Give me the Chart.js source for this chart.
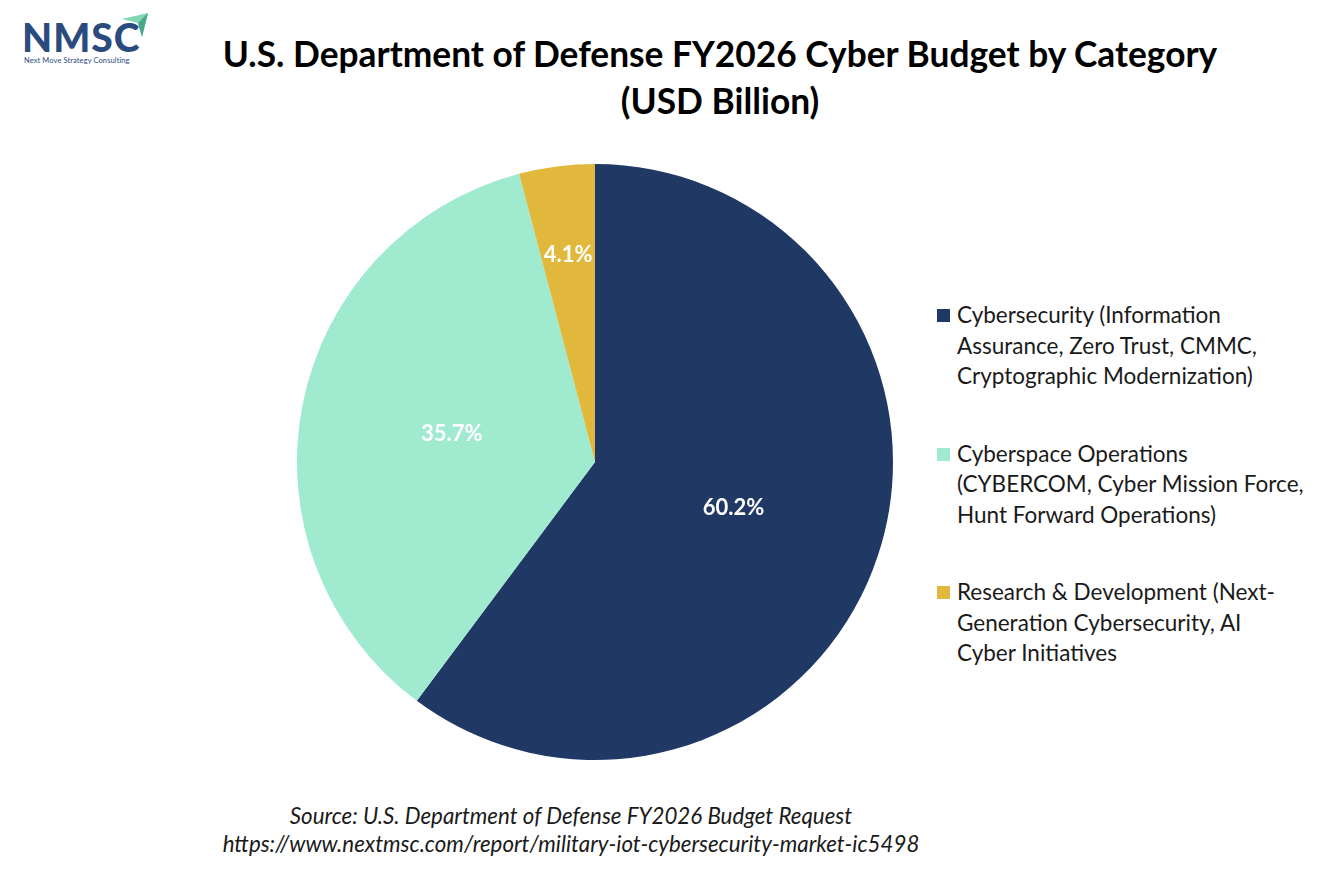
<!DOCTYPE html>
<html>
<head>
<meta charset="utf-8">
<script src="https://cdn.jsdelivr.net/npm/chart.js@4.4.1/dist/chart.umd.min.js"></script>
<style>
  html, body { margin: 0; padding: 0; background: #fff; }
  body { width: 1334px; height: 889px; position: relative; overflow: hidden; font-family: Lato, "Open Sans", sans-serif; }
  #title { position: absolute; left: 0; width: 1440px; top: 30px; text-align: center; font-weight: bold; font-size: 35.3px; line-height: 47px; color: #000; }
  #pieBox { position: absolute; left: 297px; top: 164px; width: 596px; height: 596px; }
  #legend { position: absolute; left: 937px; top: 300px; }
  .item { position: relative; padding-left: 20px; margin-bottom: 47px; font-size: 22.5px; line-height: 30.5px; color: #1a1a1a; }
  .item .box { position: absolute; left: 0; top: 9px; width: 13px; height: 13px; }
  #source { position: absolute; left: 0; width: 1142px; top: 802px; text-align: center; font-style: italic; font-size: 22.3px; line-height: 28px; color: #1a1a1a; }
  #logo { position: absolute; left: 22px; top: 16px; }
  #logo .big { font-weight: 900; font-size: 39px; letter-spacing: 1px; color: #2b4a7e; line-height: 42px; }
  #logo .small { font-size: 7.5px; color: #2b4a7e; margin-top: -2px; margin-left: 2px; letter-spacing: 0.1px; }
</style>
</head>
<body>
<div id="logo">
  <div class="big">NMSC</div>
  <div class="small">Next Move Strategy Consulting</div>
  <svg width="30" height="28" style="position:absolute;left:98px;top:-3px" viewBox="0 0 30 28">
    <polygon points="2,6 28,0 22,24 18,10" fill="#7fd7b4"/>
    <polygon points="18,10 28,0 22,24" fill="#4aa889"/>
  </svg>
</div>
<div id="title">U.S. Department of Defense FY2026 Cyber Budget by Category<br>(USD Billion)</div>
<div id="pieBox"><canvas id="pie"></canvas></div>
<div id="legend"></div>
<div id="source">Source: U.S. Department of Defense FY2026 Budget Request<br>https://www.nextmsc.com/report/military-iot-cybersecurity-market-ic5498</div>
<script>
// categories (legend lines) and share of budget in percent
const categories = [
  ['Cybersecurity (Information', 'Assurance, Zero Trust, CMMC,', 'Cryptographic Modernization)'],
  ['Cyberspace Operations', '(CYBERCOM, Cyber Mission Force,', 'Hunt Forward Operations)'],
  ['Research & Development (Next-', 'Generation Cybersecurity, AI', 'Cyber Initiatives']
];
const shares = [60.2, 35.7, 4.1];
const colors = ['#203864', '#a0ead0', '#e2b83c'];

// html legend so the long names can wrap like the original
const legendEl = document.getElementById('legend');
categories.forEach((lines, i) => {
  const div = document.createElement('div');
  div.className = 'item';
  div.innerHTML = '<span class="box" style="background:' + colors[i] + '"></span>' + lines.join('<br>');
  legendEl.appendChild(div);
});

// percentage labels inside the slices
const sliceLabels = {
  id: 'sliceLabels',
  afterDatasetsDraw(chart) {
    const ctx = chart.ctx;
    const meta = chart.getDatasetMeta(0);
    const total = shares.reduce((a, b) => a + b, 0);
    ctx.save();
    ctx.fillStyle = '#fff';
    ctx.font = 'bold 22px Lato, "Open Sans", sans-serif';
    ctx.textAlign = 'center';
    ctx.textBaseline = 'middle';
    meta.data.forEach((arc, i) => {
      const p = arc.getProps(['x', 'y', 'startAngle', 'endAngle', 'outerRadius'], true);
      const mid = (p.startAngle + p.endAngle) / 2;
      const pct = shares[i] / total * 100;
      const r = p.outerRadius * (pct < 10 ? 0.7 : 0.49);
      ctx.fillText(pct.toFixed(1) + '%', p.x + Math.cos(mid) * r, p.y + Math.sin(mid) * r);
    });
    ctx.restore();
  }
};

new Chart(document.getElementById('pie'), {
  type: 'pie',
  data: {
    labels: categories.map(l => l.join(' ')),
    datasets: [{
      data: shares,
      backgroundColor: colors,
      borderWidth: 0,
      hoverOffset: 0
    }]
  },
  options: {
    responsive: true,
    maintainAspectRatio: false,
    animation: false,
    layout: { padding: 0 },
    plugins: {
      legend: { display: false },
      tooltip: { enabled: false }
    }
  },
  plugins: [sliceLabels]
});
</script>
</body>
</html>
